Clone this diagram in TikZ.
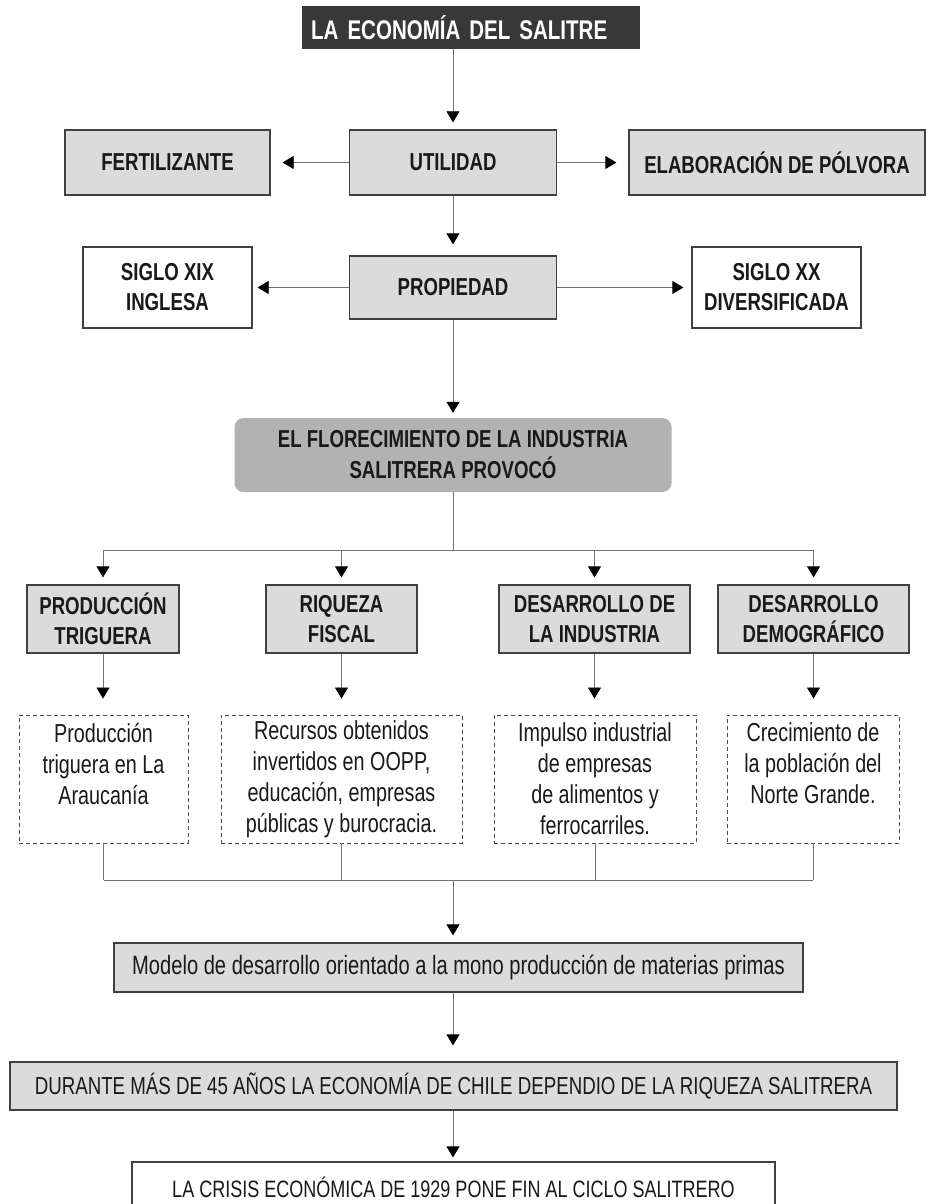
\documentclass[tikz,border=0pt]{standalone}
\usepackage{fontspec}
\setmainfont{Liberation Sans}[FakeStretch=0.76]
\usetikzlibrary{arrows.meta}

\tikzset{
  box/.style={draw=black!75, line width=1.3pt, fill=black!14, text=black!90,
    align=center, inner sep=0pt, font=\bfseries\fontsize{24.5}{30}\selectfont},
  plainbox/.style={box, fill=white},
  titlebox/.style={fill=black!78, text=white, align=left, inner xsep=9pt, inner ysep=0pt,
    text width=320pt, minimum height=43pt, font=\bfseries\fontsize{27}{30}\selectfont},
  flor/.style={fill=black!30, rounded corners=9pt, text=black!90, align=center, inner sep=0pt,
    font=\bfseries\fontsize{24.5}{31}\selectfont},
  note/.style={draw=black!70, dash pattern=on 4pt off 3pt, line width=0.9pt, text=black!90,
    align=center, inner sep=0pt, font=\fontsize{26}{31}\selectfont},
  wide/.style={draw=black!75, line width=1.3pt, fill=black!14, text=black!90, inner sep=0pt},
  line/.style={draw=black!55, line width=0.8pt},
  arr/.style={line, -{Triangle[width=13pt,length=11pt,black]}, shorten >=7pt},
}

\begin{document}
\begin{tikzpicture}[x=1pt, y=-1pt]
\useasboundingbox (0,0) rectangle (930,1204);

% cabecera
\node[titlebox, anchor=north west] (title) at (302,6) {LA ECONOMÍA DEL SALITRE};

% utilidad
\node[box, minimum width=205pt, minimum height=65pt] (fert) at (167.5,162.5) {FERTILIZANTE};
\node[box, minimum width=207pt, minimum height=65pt] (util) at (453,162.5) {UTILIDAD};
\node[box, minimum width=296pt, minimum height=65pt] (polv) at (777,162.5) {ELABORACIÓN DE PÓLVORA};

% propiedad
\node[plainbox, minimum width=169pt, minimum height=81pt] (xix) at (167.5,287.5) {SIGLO XIX\\INGLESA};
\node[box, minimum width=207pt, minimum height=63pt] (prop) at (453,287.5) {PROPIEDAD};
\node[plainbox, minimum width=169pt, minimum height=81pt] (xx) at (776.5,287.5) {SIGLO XX\\DIVERSIFICADA};

\node[flor, minimum width=437pt, minimum height=74pt] (flor) at (453,455)
  {EL FLORECIMIENTO DE LA INDUSTRIA\\SALITRERA PROVOCÓ};

% efectos
\node[box, minimum width=152pt, minimum height=68pt] (prod) at (103,619) {PRODUCCIÓN\\TRIGUERA};
\node[box, minimum width=151pt, minimum height=68pt] (riq) at (341.5,619) {RIQUEZA\\FISCAL};
\node[box, minimum width=191pt, minimum height=68pt] (des) at (594.5,619) {DESARROLLO DE\\LA INDUSTRIA};
\node[box, minimum width=191pt, minimum height=68pt] (dem) at (813.5,619) {DESARROLLO\\DEMOGRÁFICO};

\node[note, minimum width=169pt, minimum height=128pt] (n1) at (103.5,779)
  {Producción\\triguera en La\\Araucanía\\\mbox{}};
\node[note, minimum width=241pt, minimum height=128pt] (n2) at (341.5,779)
  {Recursos obtenidos\\invertidos en OOPP,\\educación, empresas\\públicas y burocracia.};
\node[note, minimum width=202pt, minimum height=128pt] (n3) at (595,779)
  {Impulso industrial\\de empresas\\de alimentos y\\ferrocarriles.};
\node[note, minimum width=172pt, minimum height=128pt] (n4) at (813,779)
  {Crecimiento de\\la población del\\Norte Grande.\\\mbox{}};

% consecuencias
\node[wide, minimum width=689pt, minimum height=49pt, font=\fontsize{26.5}{28}\selectfont] (modelo) at (458.5,967.5)
  {Modelo de desarrollo orientado a la mono producción de materias primas};
\node[wide, minimum width=887pt, minimum height=48pt, font=\fontsize{24.6}{28}\selectfont] (dur) at (453.5,1086)
  {DURANTE MÁS DE 45 AÑOS LA ECONOMÍA DE CHILE DEPENDIO DE LA RIQUEZA SALITRERA};
\node[wide, fill=white, minimum width=643pt, minimum height=50pt, font=\fontsize{23.7}{28}\selectfont] (crisis) at (453.5,1187)
  {LA CRISIS ECONÓMICA DE 1929 PONE FIN AL CICLO SALITRERO};

\coordinate (fork) at (453,550);
\coordinate (join) at (453,880);

% conectores
\draw[arr] (title.south -| util.north) -- (util.north);
\draw[arr, shorten >=12pt] (util) -- (fert);
\draw[arr, shorten >=12pt] (util) -- (polv);
\draw[arr, shorten >=11pt] (util) -- (prop);
\draw[arr, shorten >=5pt] (prop) -- (xix);
\draw[arr, shorten >=8pt] (prop) -- (xx);
\draw[arr, shorten >=5pt] (prop) -- (flor);
\draw[line] (flor.south) -- (fork);
\draw[line] (prod.north |- fork) -- (dem.north |- fork);
\foreach \n in {prod,riq,des,dem}
  \draw[arr] (\n.north |- fork) -- (\n.north);
\foreach \n/\m in {prod/n1,riq/n2,des/n3,dem/n4}
  \draw[arr, shorten >=16pt] (\n.south) -- (\n.south |- \m.north);
\foreach \m in {n1,n2,n3,n4}
  \draw[line] (\m.south) -- (\m.south |- join);
\draw[line] (n1.south |- join) -- (n4.south |- join);
\draw[arr] (join) -- (join |- modelo.north);
\draw[arr, shorten >=16pt] (modelo.south -| join) -- (dur.north -| join);
\draw[arr, shorten >=4pt] (dur.south -| join) -- (crisis.north -| join);
\end{tikzpicture}
\end{document}
